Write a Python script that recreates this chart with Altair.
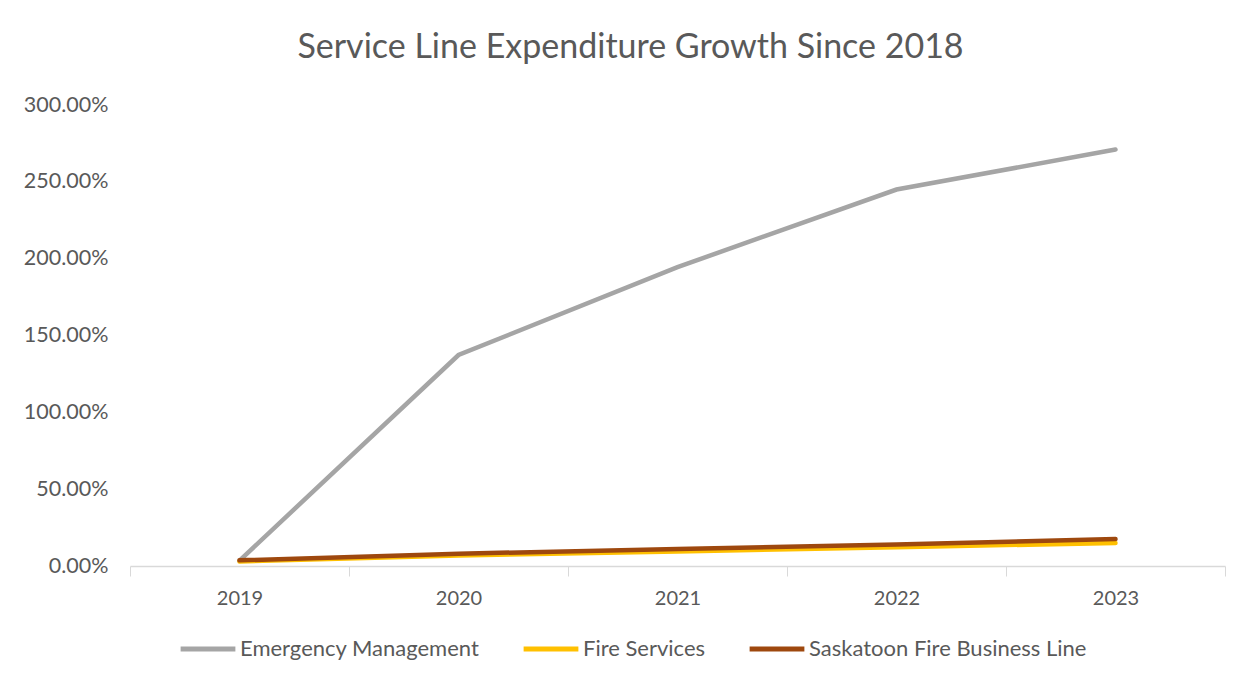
import altair as alt
import pandas as pd

years = ["2019", "2020", "2021", "2022", "2023"]
emergency_mgmt = [0.035, 1.373, 1.945, 2.45, 2.71]
fire_services = [0.030, 0.068, 0.095, 0.122, 0.150]
saskatoon_fire = [0.037, 0.080, 0.110, 0.140, 0.175]

series_names = ["Emergency Management", "Fire Services", "Saskatoon Fire Business Line"]
colors = ["#A5A5A5", "#FFC000", "#9E480E"]

rows = []
for name, vals in zip(series_names, [emergency_mgmt, fire_services, saskatoon_fire]):
    for y, v in zip(years, vals):
        rows.append({"Year": y, "Series": name, "Value": v})
df = pd.DataFrame(rows)

FONT = "Lato"
TXT = "#595959"

chart = alt.Chart(df).mark_line(strokeWidth=4.5, strokeCap="round").encode(
    x=alt.X("Year:O", scale=alt.Scale(type="band", paddingInner=0, paddingOuter=0),
            bandPosition=0.5,
            axis=alt.Axis(title=None, labelAngle=0, tickBand="extent", tickSize=10,
                          tickColor="#D9D9D9", domainColor="#D9D9D9", domainWidth=1.5,
                          labelPadding=12, labelFontSize=20, labelColor=TXT, labelFont=FONT)),
    y=alt.Y("Value:Q", scale=alt.Scale(domain=[0, 3], nice=False),
            axis=alt.Axis(title=None, format=".2%", values=[0, 0.5, 1, 1.5, 2, 2.5, 3],
                          grid=False, domain=False, ticks=False, labelPadding=22,
                          labelFontSize=21.5, labelColor=TXT, labelFont=FONT)),
    color=alt.Color("Series:N", scale=alt.Scale(domain=series_names, range=colors),
                    legend=alt.Legend(title=None, orient="none", legendX=48, legendY=514,
                                      direction="horizontal", symbolType="stroke",
                                      symbolStrokeWidth=5, symbolSize=3000,
                                      labelFontSize=22, labelColor=TXT, labelFont=FONT,
                                      labelLimit=500, columnPadding=33, labelOffset=2)),
    order=alt.Order("Series:N"),
).properties(
    width=1095,
    height=461,
    title=alt.TitleParams("Service Line Expenditure Growth Since 2018", fontSize=34,
                          font=FONT, fontWeight="normal", color=TXT, anchor="middle",
                          dx=-47, offset=29),
    autosize=alt.AutoSizeParams(type="none"),
    padding={"left": 122, "top": 97, "right": 17, "bottom": 110},
).configure_view(strokeWidth=0)

chart.save("out.html", embed_options={"renderer": "svg", "actions": False})
